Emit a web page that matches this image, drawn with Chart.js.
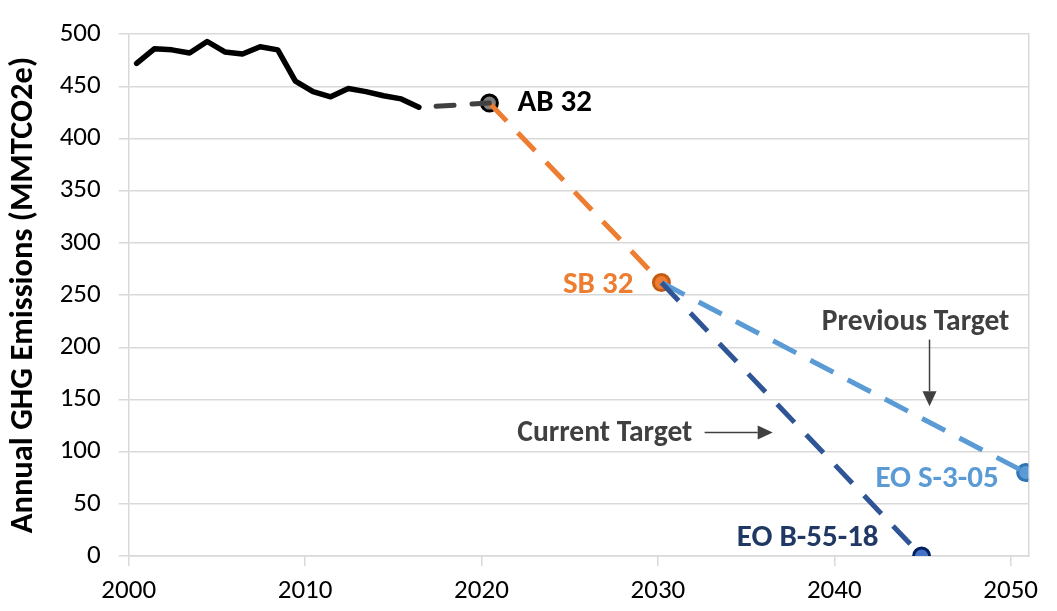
<!DOCTYPE html>
<html>
<head>
<meta charset="utf-8">
<script src="https://cdn.jsdelivr.net/npm/chart.js@4.4.1/dist/chart.umd.min.js"></script>
<style>
html,body{margin:0;padding:0;background:#fff;}
#wrap{width:1057px;height:611px;position:relative;}
</style>
</head>
<body>
<div id="wrap"><canvas id="c"></canvas></div>
<script>
// ---- data ----
const historyYears  = [2000,2001,2002,2003,2004,2005,2006,2007,2008,2009,2010,2011,2012,2013,2014,2015,2016];
const historyValues = [472,486,485,482,493,483,481,488,485,455,445,440,448,445,441,438,430];

const bridgeYears  = [2016, 2020];
const bridgeValues = [430, 434];

const sb32PathYears  = [2020, 2029.75];
const sb32PathValues = [434, 262];

const currentYears  = [2029.75, 2044.5];
const currentValues = [262, 0];

const previousYears  = [2029.75, 2050.4];
const previousValues = [262, 80];

const markerLabels = ["AB 32", "SB 32", "EO B-55-18", "EO S-3-05"];
const markerYears  = [2020, 2029.75, 2044.5, 2050.4];
const markerValues = [434, 262, 0, 80];

const xTickLabels = [2000, 2010, 2020, 2030, 2040, 2050];
const yTickValues = [0, 50, 100, 150, 200, 250, 300, 350, 400, 450, 500];

const noteTexts  = ["Previous Target", "Current Target"];
const noteYears  = [2044.16, 2026.54];
const noteValues = [223.4, 117.3];
// arrows: start and tip in data units
const arrowFrom = [[2044.95, 207.4], [2032.2, 118.3]];
const arrowTo   = [[2044.95, 143.6], [2036.06, 118.3]];

// ---- styles ----
const catOffset = 0.45; // category centring of annual points
const FONT = "Carlito, Calibri, Lato, 'Open Sans', sans-serif";
const pts = (xs, ys) => xs.map((x, i) => ({x: x, y: ys[i]}));

const labelStyle = [
  {color:'#000000', dx: 28,  dy: 0,   align:'left'},
  {color:'#ed7d31', dx: -28, dy: 3,   align:'right'},
  {color:'#203864', dx: -43, dy: -18, align:'right'},
  {color:'#5b9bd5', dx: -27, dy: 7,   align:'right'}
];

const labelPlugin = {
  id: 'labels',
  afterDatasetsDraw(chart) {
    const {ctx, scales: {x, y}} = chart;
    ctx.save();
    ctx.textBaseline = 'middle';
    ctx.font = "bold 31px " + FONT;
    markerLabels.forEach((t, i) => {
      const s = labelStyle[i];
      ctx.fillStyle = s.color;
      ctx.textAlign = s.align;
      ctx.fillText(t, x.getPixelForValue(markerYears[i]) + s.dx, y.getPixelForValue(markerValues[i]) + s.dy);
    });
    ctx.font = "bold 29.5px " + FONT;
    ctx.fillStyle = '#404040';
    ctx.textAlign = 'center';
    noteTexts.forEach((t, i) => {
      ctx.fillText(t, x.getPixelForValue(noteYears[i]), y.getPixelForValue(noteValues[i]));
    });
    ctx.strokeStyle = '#404040';
    ctx.lineWidth = 1.5;
    arrowFrom.forEach((f, i) => {
      const x1 = x.getPixelForValue(f[0]), y1 = y.getPixelForValue(f[1]);
      const x2 = x.getPixelForValue(arrowTo[i][0]), y2 = y.getPixelForValue(arrowTo[i][1]);
      const ang = Math.atan2(y2 - y1, x2 - x1);
      const hl = 15, hw = 7;
      const bx = x2 - hl * Math.cos(ang), by = y2 - hl * Math.sin(ang);
      ctx.beginPath(); ctx.moveTo(x1, y1); ctx.lineTo(bx, by); ctx.stroke();
      ctx.beginPath();
      ctx.moveTo(x2, y2);
      ctx.lineTo(bx + hw * Math.sin(ang), by - hw * Math.cos(ang));
      ctx.lineTo(bx - hw * Math.sin(ang), by + hw * Math.cos(ang));
      ctx.closePath(); ctx.fillStyle = '#404040'; ctx.fill();
    });
    ctx.restore();
  }
};

const lineBase = {pointRadius: 0, pointHoverRadius: 0, fill: false, tension: 0, borderWidth: 5};

new Chart(document.getElementById('c'), {
  type: 'line',
  data: {
    datasets: [
      Object.assign({}, lineBase, {label:'History', data: pts(historyYears, historyValues), borderColor:'#000000', borderWidth: 5.5, borderCapStyle:'round', borderJoinStyle:'round'}),
      Object.assign({}, lineBase, {label:'Bridge', data: pts(bridgeYears, bridgeValues), borderColor:'#404040', borderCapStyle:'round', borderDash:[18,18], borderDashOffset:18.75}),
      Object.assign({}, lineBase, {label:'SB 32 path', data: pts(sb32PathYears, sb32PathValues), borderColor:'#ed7d31', borderCapStyle:'butt', borderDash:[25,16]}),
      Object.assign({}, lineBase, {label:'Current', data: pts(currentYears, currentValues), borderColor:'#2f5597', borderCapStyle:'butt', borderDash:[25,17]}),
      Object.assign({}, lineBase, {label:'Previous', data: pts(previousYears, previousValues), borderColor:'#5b9bd5', borderCapStyle:'butt', borderDash:[26,16]}),
      {label:'Targets', data: pts(markerYears, markerValues), showLine:false,
       pointRadius: 8, pointHoverRadius: 8, pointBorderWidth: 3,
       pointBackgroundColor:['#7f7f7f','#ed7d31','#4472c4','#5b9bd5'],
       pointBorderColor:['#000000','#c55a11','#002060','#2e75b6']}
    ]
  },
  options: {
    responsive: true,
    maintainAspectRatio: false,
    animation: false,
    devicePixelRatio: 1,
    layout: {padding: {left: 0, right: 28.7, top: 23.3, bottom: 0}},
    plugins: {legend: {display: false}, tooltip: {enabled: false}},
    events: [],
    scales: {
      x: {
        type: 'linear',
        min: xTickLabels[0] - catOffset,
        max: xTickLabels[xTickLabels.length - 1] + 1 - catOffset,
        afterBuildTicks(s) { s.ticks = xTickLabels.map(v => ({value: v - catOffset})); },
        afterFit(s) { s.height = 55; },
        ticks: {
          callback: (v) => String(Math.round(v + catOffset)),
          color: '#000000', font: {family: FONT, size: 27}, padding: 9, maxRotation: 0, autoSkip: false
        },
        grid: {display: true, drawOnChartArea: false, drawTicks: true, tickLength: 10, color: '#d9d9d9', lineWidth: 1.5},
        border: {display: true, color: '#d9d9d9', width: 1.5}
      },
      y: {
        type: 'linear',
        min: 0, max: 500,
        afterBuildTicks(s) { s.ticks = yTickValues.map(v => ({value: v})); },
        afterFit(s) { s.width = 128.7; },
        ticks: {color: '#000000', font: {family: FONT, size: 27}, padding: 18},
        grid: {color: '#d9d9d9', lineWidth: 1.5, tickLength: 10},
        border: {display: true, color: '#d9d9d9', width: 1.5},
        title: {display: true, text: 'Annual GHG Emissions (MMTCO2e)', color: '#000000',
                font: {family: FONT, size: 32.5, weight: 'bold'}, padding: {top: 4, bottom: 0}}
      },
      y2: {
        type: 'linear', position: 'right', min: 0, max: 500,
        afterFit(s) { s.width = 0; },
        ticks: {display: false},
        grid: {display: false, drawTicks: false},
        border: {display: true, color: '#d9d9d9', width: 1.5}
      }
    }
  },
  plugins: [labelPlugin]
});
</script>
</body>
</html>
